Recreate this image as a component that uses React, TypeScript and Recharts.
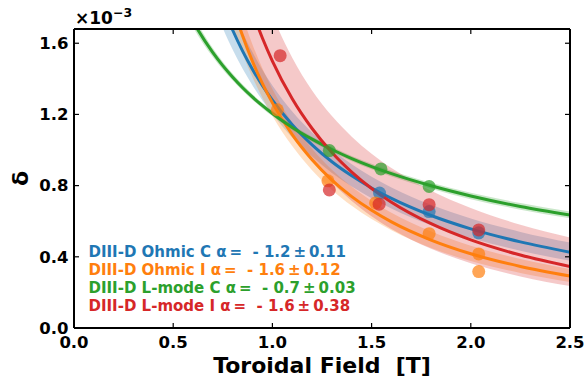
import {
  ComposedChart,
  Area,
  Line,
  Scatter,
  XAxis,
  YAxis,
} from "recharts";

// toroidal field grid for the fitted curves [T]
const fieldT = [0.55, 0.6, 0.7, 0.75, 0.8, 0.85, 0.9, 0.95, 1.0, 1.1, 1.2, 1.3, 1.4, 1.5, 1.6, 1.8, 2.0, 2.25, 2.5];

// fits (x1e-3)
const blueFit = [2.623, 2.363, 1.964, 1.808, 1.673, 1.556, 1.453, 1.361, 1.28, 1.142, 1.029, 0.934, 0.855, 0.787, 0.728, 0.632, 0.557, 0.484, 0.426];
const blueLo = [2.395, 2.172, 1.824, 1.685, 1.564, 1.457, 1.363, 1.278, 1.202, 1.071, 0.963, 0.871, 0.795, 0.729, 0.671, 0.577, 0.505, 0.434, 0.378];
const blueHi = [2.873, 2.571, 2.115, 1.94, 1.79, 1.661, 1.549, 1.45, 1.363, 1.217, 1.099, 1.001, 0.92, 0.85, 0.79, 0.692, 0.615, 0.54, 0.48];

const orangeFit = [3.292, 2.865, 2.238, 2.004, 1.808, 1.641, 1.497, 1.373, 1.265, 1.086, 0.945, 0.831, 0.738, 0.661, 0.596, 0.494, 0.417, 0.346, 0.292];
const orangeLo = [2.998, 2.629, 2.079, 1.87, 1.693, 1.541, 1.408, 1.293, 1.191, 1.022, 0.886, 0.776, 0.687, 0.612, 0.549, 0.45, 0.376, 0.309, 0.258];
const orangeHi = [3.615, 3.122, 2.409, 2.148, 1.931, 1.748, 1.592, 1.458, 1.343, 1.154, 1.007, 0.889, 0.793, 0.714, 0.647, 0.542, 0.462, 0.388, 0.331];

const greenFit = [1.831, 1.723, 1.547, 1.474, 1.409, 1.35, 1.297, 1.249, 1.205, 1.127, 1.061, 1.003, 0.952, 0.907, 0.867, 0.799, 0.742, 0.683, 0.635];
const greenLo = [1.792, 1.69, 1.522, 1.452, 1.39, 1.333, 1.281, 1.234, 1.191, 1.113, 1.047, 0.989, 0.937, 0.892, 0.851, 0.782, 0.724, 0.665, 0.616];
const greenHi = [1.871, 1.757, 1.572, 1.496, 1.428, 1.368, 1.313, 1.264, 1.22, 1.141, 1.075, 1.018, 0.967, 0.923, 0.883, 0.816, 0.76, 0.702, 0.654];

const redFit = [3.904, 3.397, 2.654, 2.377, 2.144, 1.946, 1.776, 1.628, 1.5, 1.288, 1.121, 0.986, 0.876, 0.784, 0.707, 0.586, 0.495, 0.41, 0.346];
const redLo = [2.957, 2.641, 2.152, 1.958, 1.789, 1.639, 1.506, 1.386, 1.278, 1.093, 0.942, 0.817, 0.714, 0.628, 0.556, 0.445, 0.364, 0.29, 0.236];
const redHi = [5.155, 4.369, 3.273, 2.885, 2.57, 2.31, 2.095, 1.913, 1.76, 1.518, 1.335, 1.191, 1.075, 0.979, 0.899, 0.771, 0.674, 0.58, 0.508];

// measured points
const blueT = [1.54, 1.79, 2.04];
const blueD = [0.758, 0.654, 0.535];
const orangeT = [1.025, 1.28, 1.52, 1.79, 2.04, 2.04];
const orangeD = [1.226, 0.827, 0.703, 0.53, 0.416, 0.317];
const greenT = [1.287, 1.547, 1.79];
const greenD = [0.997, 0.894, 0.795];
const redT = [1.039, 1.287, 1.538, 1.79, 2.04];
const redD = [1.53, 0.776, 0.696, 0.693, 0.551];

const xTicks = [0, 0.5, 1.0, 1.5, 2.0, 2.5];
const yTicks = [0, 0.4, 0.8, 1.2, 1.6];
const xMax = 2.5;
const yMax = 1.68;

const legendLines = [
  { text: "DIII-D Ohmic C α\u2009=  - 1.2\u2009±\u20090.11", color: "#1f77b4" },
  { text: "DIII-D Ohmic I α\u2009=  - 1.6\u2009±\u20090.12", color: "#ff7f0e" },
  { text: "DIII-D L-mode C α\u2009=  - 0.7\u2009±\u20090.03", color: "#2ca02c" },
  { text: "DIII-D L-mode I α\u2009=  - 1.6\u2009±\u20090.38", color: "#d62728" },
];

const rows = fieldT.map((T, i) => ({
  T,
  blue: blueFit[i],
  blueBand: [blueLo[i], blueHi[i]],
  orange: orangeFit[i],
  orangeBand: [orangeLo[i], orangeHi[i]],
  green: greenFit[i],
  greenBand: [greenLo[i], greenHi[i]],
  red: redFit[i],
  redBand: [redLo[i], redHi[i]],
}));

const pts = (t: number[], d: number[]) => t.map((T, i) => ({ T, d: d[i] }));

const FONT = "'DejaVu Sans', sans-serif";
const fmt = (v: number) => v.toFixed(1);

const dot = (color: string) => (p: any) => (
  <circle cx={p.cx} cy={p.cy} r={6.5} fill={color} fillOpacity={0.7} />
);

const tickStyle = { fill: "#000", fontSize: 16.5, fontWeight: "bold", fontFamily: FONT };
const axisLineStyle = { stroke: "#000", strokeWidth: 2 };
const tickLineStyle = { stroke: "#000", strokeWidth: 1.2 };

// layout, shared by the chart and the box overlay
const W = 585;
const H = 378;
const margin = { top: 29, right: 15, bottom: 20, left: 0 };
const X_AXIS_H = 30;
const Y_AXIS_W = 74;
const box = {
  left: margin.left + Y_AXIS_W,
  right: W - margin.right,
  top: margin.top,
  bottom: H - margin.bottom - X_AXIS_H,
};
const toPx = (v: number) => box.left + (v / xMax) * (box.right - box.left);
const toPy = (v: number) => box.bottom - (v / yMax) * (box.bottom - box.top);

export default function App() {
  return (
    <div style={{ position: "absolute", left: 0, top: 0, width: W, height: H, background: "#fff", fontFamily: FONT }}>
      <ComposedChart width={W} height={H} data={rows} margin={margin}>
        <XAxis
          dataKey="T"
          type="number"
          domain={[0, xMax]}
          ticks={xTicks}
          tickFormatter={fmt}
          allowDataOverflow
          height={X_AXIS_H}
          tickSize={-5}
          tickMargin={13}
          tick={tickStyle}
          axisLine={axisLineStyle}
          tickLine={tickLineStyle}
          label={() => (
            <text x={322} y={373} textAnchor="middle" fontSize={22} fontWeight="bold" fontFamily={FONT} fill="#000" style={{ whiteSpace: "pre" }}>
              Toroidal Field  [T]
            </text>
          )}
        />
        <YAxis
          type="number"
          domain={[0, yMax]}
          ticks={yTicks}
          tickFormatter={fmt}
          allowDataOverflow
          width={Y_AXIS_W}
          tickSize={-5}
          tickMargin={10.5}
          tick={tickStyle}
          axisLine={axisLineStyle}
          tickLine={tickLineStyle}
          label={() => (
            <text x={28} y={178.5} transform="rotate(-90 28 178.5)" textAnchor="middle" fontSize={22} fontWeight="bold" fontFamily={FONT} fill="#000">
              δ
            </text>
          )}
        />

        <Area type="monotone" dataKey="blueBand" stroke="none" fill="#1f77b4" fillOpacity={0.25} isAnimationActive={false} />
        <Area type="monotone" dataKey="orangeBand" stroke="none" fill="#ff7f0e" fillOpacity={0.25} isAnimationActive={false} />
        <Area type="monotone" dataKey="greenBand" stroke="none" fill="#2ca02c" fillOpacity={0.25} isAnimationActive={false} />
        <Area type="monotone" dataKey="redBand" stroke="none" fill="#d62728" fillOpacity={0.25} isAnimationActive={false} />

        <Line type="monotone" dataKey="blue" stroke="#1f77b4" strokeWidth={3} dot={false} isAnimationActive={false} />
        <Line type="monotone" dataKey="orange" stroke="#ff7f0e" strokeWidth={3} dot={false} isAnimationActive={false} />
        <Line type="monotone" dataKey="green" stroke="#2ca02c" strokeWidth={3} dot={false} isAnimationActive={false} />
        <Line type="monotone" dataKey="red" stroke="#d62728" strokeWidth={3} dot={false} isAnimationActive={false} />

        <Scatter data={pts(blueT, blueD)} dataKey="d" shape={dot("#1f77b4")} isAnimationActive={false} />
        <Scatter data={pts(orangeT, orangeD)} dataKey="d" shape={dot("#ff7f0e")} isAnimationActive={false} />
        <Scatter data={pts(greenT, greenD)} dataKey="d" shape={dot("#2ca02c")} isAnimationActive={false} />
        <Scatter data={pts(redT, redD)} dataKey="d" shape={dot("#d62728")} isAnimationActive={false} />
      </ComposedChart>

      <svg width={W} height={H} style={{ position: "absolute", left: 0, top: 0, pointerEvents: "none" }}>
        {/* top and right edges of the box, inward ticks */}
        <line x1={box.left} y1={box.top} x2={box.right} y2={box.top} stroke="#000" strokeWidth={2} />
        <line x1={box.right} y1={box.top} x2={box.right} y2={box.bottom} stroke="#000" strokeWidth={2} />
        {xTicks.map((v) => (
          <line key={"t" + v} x1={toPx(v)} y1={box.top} x2={toPx(v)} y2={box.top + 5} stroke="#000" strokeWidth={1.2} />
        ))}
        {yTicks.map((v) => (
          <line key={"r" + v} x1={box.right} y1={toPy(v)} x2={box.right - 5} y2={toPy(v)} stroke="#000" strokeWidth={1.2} />
        ))}

        <text x={75} y={24.3} fontSize={17} fontWeight="bold" fontFamily={FONT} fill="#000">
          ×10
          <tspan dy={-7} fontSize={12.5}>−3</tspan>
        </text>
        {legendLines.map((l, i) => (
          <text key={l.text} x={88.5} y={256.8 + i * 18.2} fontSize={15} fontWeight="bold" fontFamily={FONT} fill={l.color} style={{ whiteSpace: "pre" }}>
            {l.text}
          </text>
        ))}
      </svg>
    </div>
  );
}
